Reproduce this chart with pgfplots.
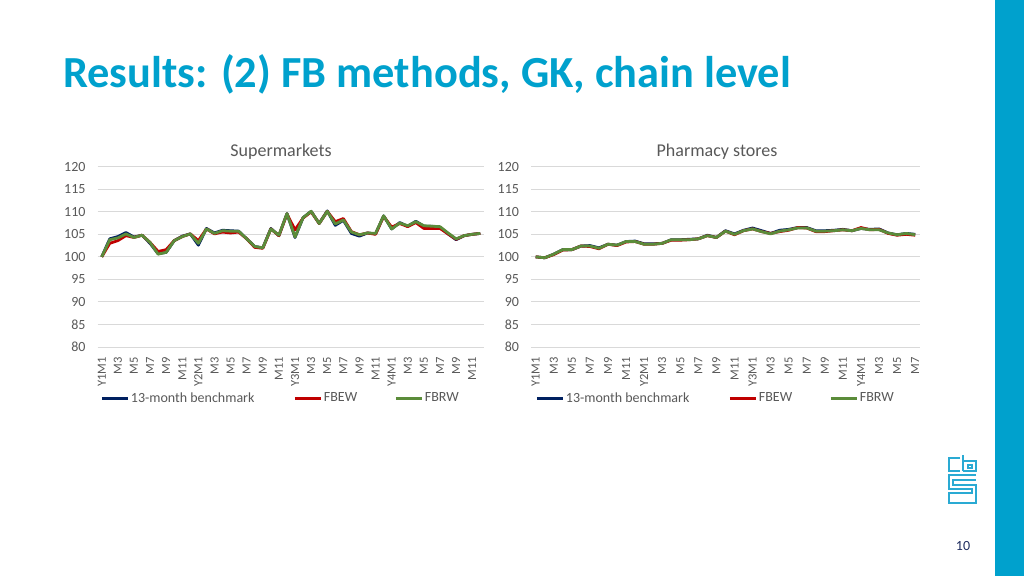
\documentclass[border=0pt]{standalone}
\usepackage{fontspec}
\setmainfont{Carlito}
\usepackage{pgfplots}
\pgfplotsset{compat=1.18}
\usepackage{pgfplotstable}
\definecolor{cbsblue}{HTML}{00A1CD}
\definecolor{logoblue}{HTML}{2AAAD3}
\definecolor{txtgray}{HTML}{595959}
\definecolor{gridgray}{HTML}{D9D9D9}
\definecolor{sblue}{HTML}{002060}
\definecolor{sred}{HTML}{C00000}
\definecolor{sgreen}{HTML}{5B8C3A}
\definecolor{navy}{HTML}{1F2D5F}

\pgfplotstableread{
i b r g
0 100.0 100.0 100.0
1 104.0 103.0 103.8
2 104.5 103.6 104.2
3 105.4 104.7 105.1
4 104.4 104.3 104.3
5 104.8 104.8 104.8
6 103.0 103.2 103.2
7 100.7 101.2 100.6
8 101.0 101.6 101.0
9 103.6 103.6 103.6
10 104.6 104.5 104.5
11 105.1 105.1 105.1
12 102.6 103.6 103.0
13 106.3 106.2 106.2
14 105.3 105.1 105.2
15 105.9 105.5 105.8
16 105.8 105.3 105.7
17 105.7 105.5 105.7
18 104.0 104.0 104.0
19 102.3 102.1 102.3
20 102.0 101.9 102.0
21 106.3 106.2 106.2
22 104.7 104.7 104.8
23 109.6 109.5 109.6
24 104.3 106.0 104.4
25 108.7 108.6 108.7
26 110.1 110.0 110.1
27 107.4 107.4 107.4
28 110.2 110.1 110.1
29 107.0 107.8 107.3
30 108.1 108.5 108.2
31 105.2 105.6 105.5
32 104.6 104.9 104.9
33 105.3 105.3 105.3
34 105.1 105.0 105.2
35 109.1 109.0 109.1
36 106.2 106.6 106.2
37 107.6 107.4 107.5
38 106.8 106.7 106.9
39 107.9 107.6 107.8
40 106.8 106.3 106.9
41 106.8 106.3 106.8
42 106.5 106.3 106.7
43 105.1 105.1 105.3
44 103.8 103.9 104.0
45 104.7 104.7 104.7
46 105.0 105.0 105.0
47 105.2 105.2 105.2
}\supdata

\pgfplotstableread{
i b r g
0 100.0 100.0 100.0
1 99.8 99.8 99.8
2 100.6 100.5 100.6
3 101.6 101.5 101.6
4 101.6 101.6 101.6
5 102.4 102.4 102.4
6 102.5 102.3 102.4
7 102.0 101.8 101.9
8 102.8 102.8 102.8
9 102.6 102.5 102.6
10 103.4 103.3 103.4
11 103.5 103.4 103.4
12 102.9 102.8 102.8
13 102.9 102.8 102.8
14 103.0 103.0 103.0
15 103.8 103.7 103.8
16 103.8 103.7 103.8
17 103.9 103.8 103.8
18 104.0 104.0 104.0
19 104.8 104.7 104.7
20 104.3 104.3 104.3
21 105.8 105.7 105.7
22 105.1 104.9 105.0
23 105.9 105.8 105.8
24 106.4 106.2 106.2
25 105.8 105.6 105.6
26 105.2 105.2 105.1
27 105.9 105.6 105.7
28 106.1 105.9 106.0
29 106.5 106.5 106.4
30 106.5 106.4 106.4
31 105.8 105.6 105.7
32 105.8 105.6 105.7
33 105.9 105.8 105.8
34 106.1 106.0 106.0
35 105.8 105.8 105.8
36 106.3 106.5 106.3
37 106.1 106.0 106.0
38 106.2 106.1 106.0
39 105.3 105.2 105.3
40 104.9 104.8 104.9
41 105.2 105.0 105.2
42 105.0 104.8 104.9
}\phadata

\pgfplotsset{chartstyle/.style={
  scale only axis, anchor=south west,
  height=180.3pt,
  ymin=80, ymax=120, ytick={80,85,...,120},
  ymajorgrids, grid style={gridgray, line width=0.9pt},
  axis line style={draw=none}, major tick length=0pt,
  tick label style={text=txtgray},
  /pgf/number format/assume math mode=true,
  yticklabel style={anchor=east, inner sep=0pt, font=\fontsize{14}{16}\selectfont},
  yticklabel shift=12pt,
  xticklabel style={rotate=90, anchor=east, inner sep=0pt, font=\fontsize{12.5}{14}\selectfont},
  xticklabel shift=10pt,
  every axis plot/.append style={line width=2.8pt, line join=round, mark=none},
  legend columns=3,
  legend cell align=left,
  legend image code/.code={\draw[#1, line width=3pt] (0pt,0pt) -- (26pt,0pt);},
  legend style={draw=none, fill=none, inner sep=0pt, anchor=west,
    nodes={inner xsep=1.5pt, inner ysep=0pt, text=txtgray, font=\fontsize{14}{16}\selectfont}},
}}

\begin{document}
\begin{tikzpicture}[x=1pt,y=-1pt]
\fill[white] (0,0) rectangle (1024,576);
\useasboundingbox (0,0) rectangle (1024,576);
\fill[cbsblue] (995,0) rectangle (1024,576);

\node[anchor=base west, inner sep=0pt, text=cbsblue] at (63,87)
  {\fontsize{44.4}{52}\selectfont\bfseries Results: (2) FB methods, GK, chain level};

\node[text=txtgray, font=\fontsize{18}{20}\selectfont] at (281,152) {Supermarkets};
\node[text=txtgray, font=\fontsize{18}{20}\selectfont] at (717,152) {Pharmacy stores};

\begin{axis}[chartstyle, at={(97.7pt,-347pt)}, width=386.6pt,
  xmin=-0.5, xmax=47.5,
  xtick={0,2,...,46},
  xticklabels={Y1M1,M3,M5,M7,M9,M11,Y2M1,M3,M5,M7,M9,M11,Y3M1,M3,M5,M7,M9,M11,Y4M1,M3,M5,M7,M9,M11},
  legend style={at={(axis description cs:0.0065,-0.283)}},
]
\addplot[sblue] table[x=i,y=b] {\supdata};
\addlegendentry{\makebox[161pt][l]{13-month benchmark}}
\addplot[sred] table[x=i,y=r] {\supdata};
\addlegendentry{\makebox[69pt][l]{FBEW}}
\addplot[sgreen] table[x=i,y=g] {\supdata};
\addlegendentry{FBRW}
\end{axis}

\begin{axis}[chartstyle, at={(531.2pt,-347pt)}, width=388.5pt,
  xmin=-0.5, xmax=42.5,
  xtick={0,2,...,42},
  xticklabels={Y1M1,M3,M5,M7,M9,M11,Y2M1,M3,M5,M7,M9,M11,Y3M1,M3,M5,M7,M9,M11,Y4M1,M3,M5,M7},
  legend style={at={(axis description cs:0.0103,-0.283)}},
]
\addplot[sblue] table[x=i,y=b] {\phadata};
\addlegendentry{\makebox[161pt][l]{13-month benchmark}}
\addplot[sred] table[x=i,y=r] {\phadata};
\addlegendentry{\makebox[69pt][l]{FBEW}}
\addplot[sgreen] table[x=i,y=g] {\phadata};
\addlegendentry{FBRW}
\end{axis}

% CBS logo (approximate)
\begin{scope}[logoblue, line width=2pt]
  \draw (960,458) -- (949,458) -- (949,471) -- (960,471);
  \draw (963,471) -- (963,455) ;
  \draw (963,461) -- (976,461) -- (976,471) -- (963,471);
  \draw (968,465) rectangle (972,468);
  \draw (976,475) -- (949,475) -- (949,489) -- (972,489) -- (972,493) -- (949,493) -- (949,503) -- (976,503) -- (976,485) -- (953,485) -- (953,480) -- (976,480);
\end{scope}

\node[text=navy, font=\fontsize{14}{16}\selectfont] at (963,546) {10};
\end{tikzpicture}
\end{document}
